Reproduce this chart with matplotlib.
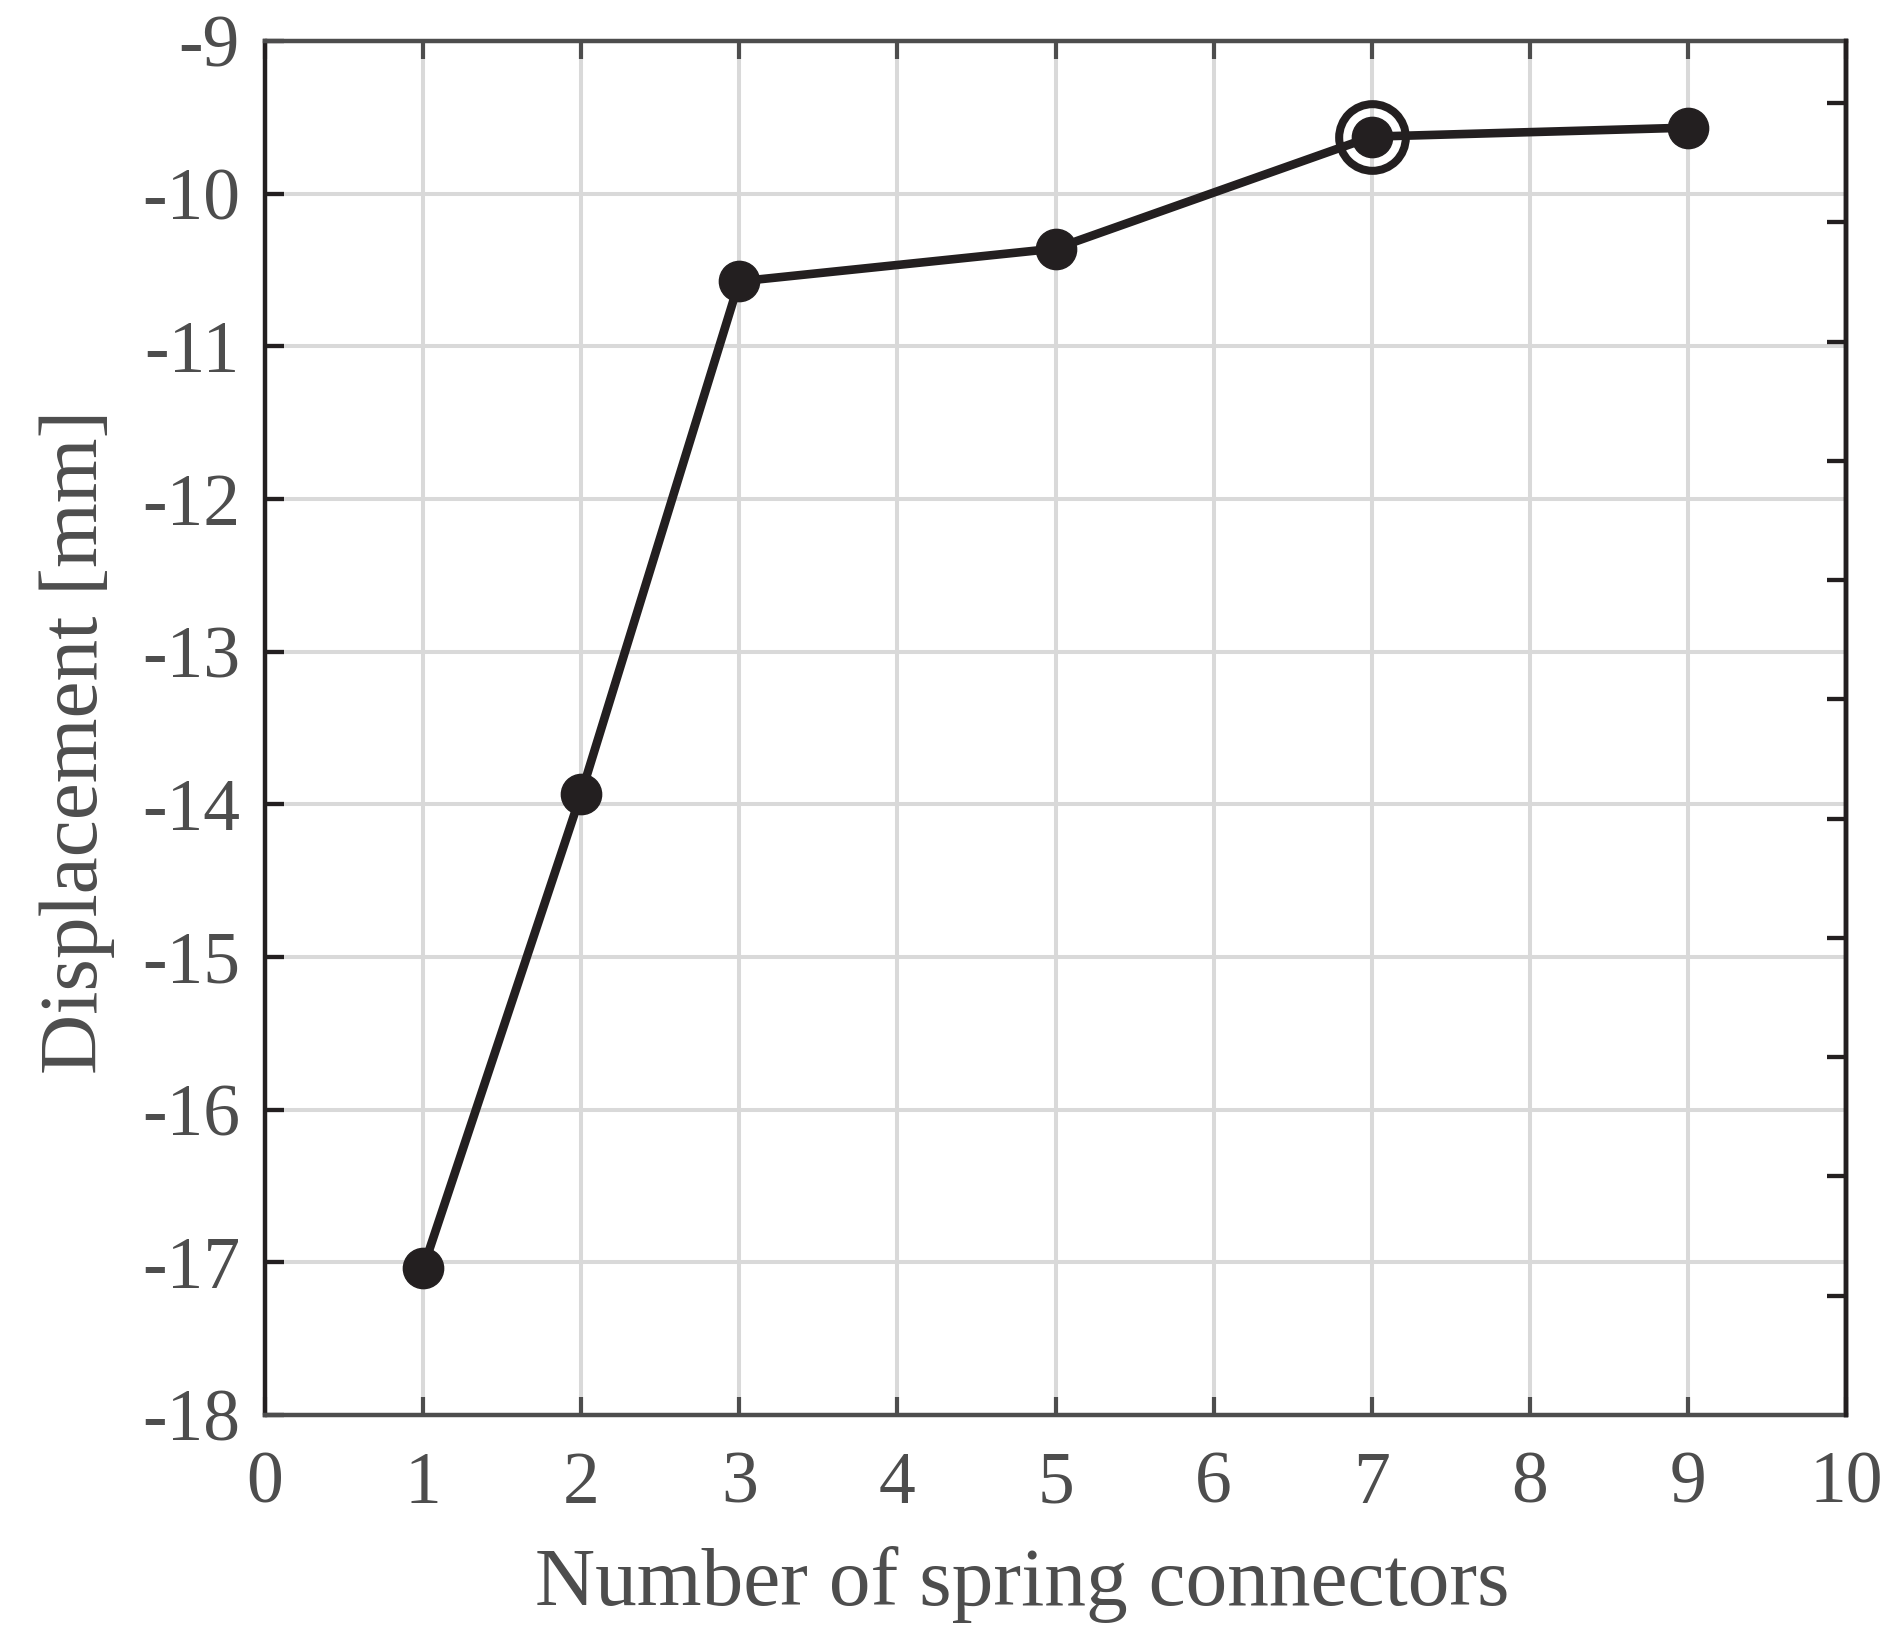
import numpy as np
import matplotlib
matplotlib.use("Agg")
import matplotlib.pyplot as plt

# values
connectors = [1, 2, 3, 5, 7, 9]
displacement = [-17.04, -13.93, -10.575, -10.36, -9.627, -9.568]
best_idx = 4  # circled point (7 connectors)

x_ticks = list(range(0, 11))
y_ticks = list(range(-18, -8))
right_ticks = list(range(1, 12))

dark = "#231f20"
grey = "#4d4d4d"
grid_c = "#d9d9d9"

plt.rcParams['font.family'] = ['Liberation Serif', 'DejaVu Serif']
plt.rcParams['axes.unicode_minus'] = False

fig = plt.figure(figsize=(18.94, 16.5), dpi=100)
ax = fig.add_axes([0.1399, 0.1424, 0.9747 - 0.1399, 0.9752 - 0.1424])

ax.set_xlim(0, 10)
ax.set_ylim(-18, -9)
ax.set_xticks(x_ticks)
ax.set_yticks(y_ticks)
ax.set_xticklabels([str(v) for v in x_ticks])
ax.set_yticklabels([str(v) for v in y_ticks])
ax.grid(True, color=grid_c, linewidth=2.9)
ax.set_axisbelow(True)

ax.plot(connectors, displacement, color=dark, linewidth=6.2,
        marker='o', markersize=29, markerfacecolor=dark, markeredgecolor=dark,
        zorder=3)
ax.plot(connectors[best_idx], displacement[best_idx], marker='o', markersize=48,
        markerfacecolor='none', markeredgecolor=dark, markeredgewidth=5.8,
        linestyle='none', zorder=4)

ax.spines['left'].set_color(dark)
for s in ['top', 'bottom']:
    ax.spines[s].set_color(grey)
for s in ax.spines.values():
    s.set_linewidth(3.2)
    s.set_zorder(5)

ax.tick_params(axis='x', which='both', direction='in', top=True, bottom=True,
               length=13, width=3, color=grey, labelcolor=grey,
               labelsize=53, pad=26)
ax.tick_params(axis='y', which='both', direction='in', left=True, right=False,
               length=13.5, width=3.1, color=dark, labelcolor=grey,
               labelsize=53, pad=18)

ax.set_xlabel("Number of spring connectors", fontsize=60, color=grey, labelpad=20)
ax.set_ylabel("Displacement [mm]", fontsize=60, color=grey, labelpad=19)
ax.xaxis.label.set_x(0.479)
ax.yaxis.label.set_y(0.49)

# unlabeled right-hand axis
ax2 = ax.twinx()
ax2.set_ylim(0, 11.52)
ax2.set_yticks(right_ticks)
ax2.tick_params(axis='y', direction='in', length=13.5, width=3.1, color=dark,
                labelright=False)
ax2.spines['right'].set_color(dark)
ax2.spines['right'].set_linewidth(3.2)
for s in ['left', 'top', 'bottom']:
    ax2.spines[s].set_visible(False)

fig.savefig("out.png", dpi=100, facecolor='white')
